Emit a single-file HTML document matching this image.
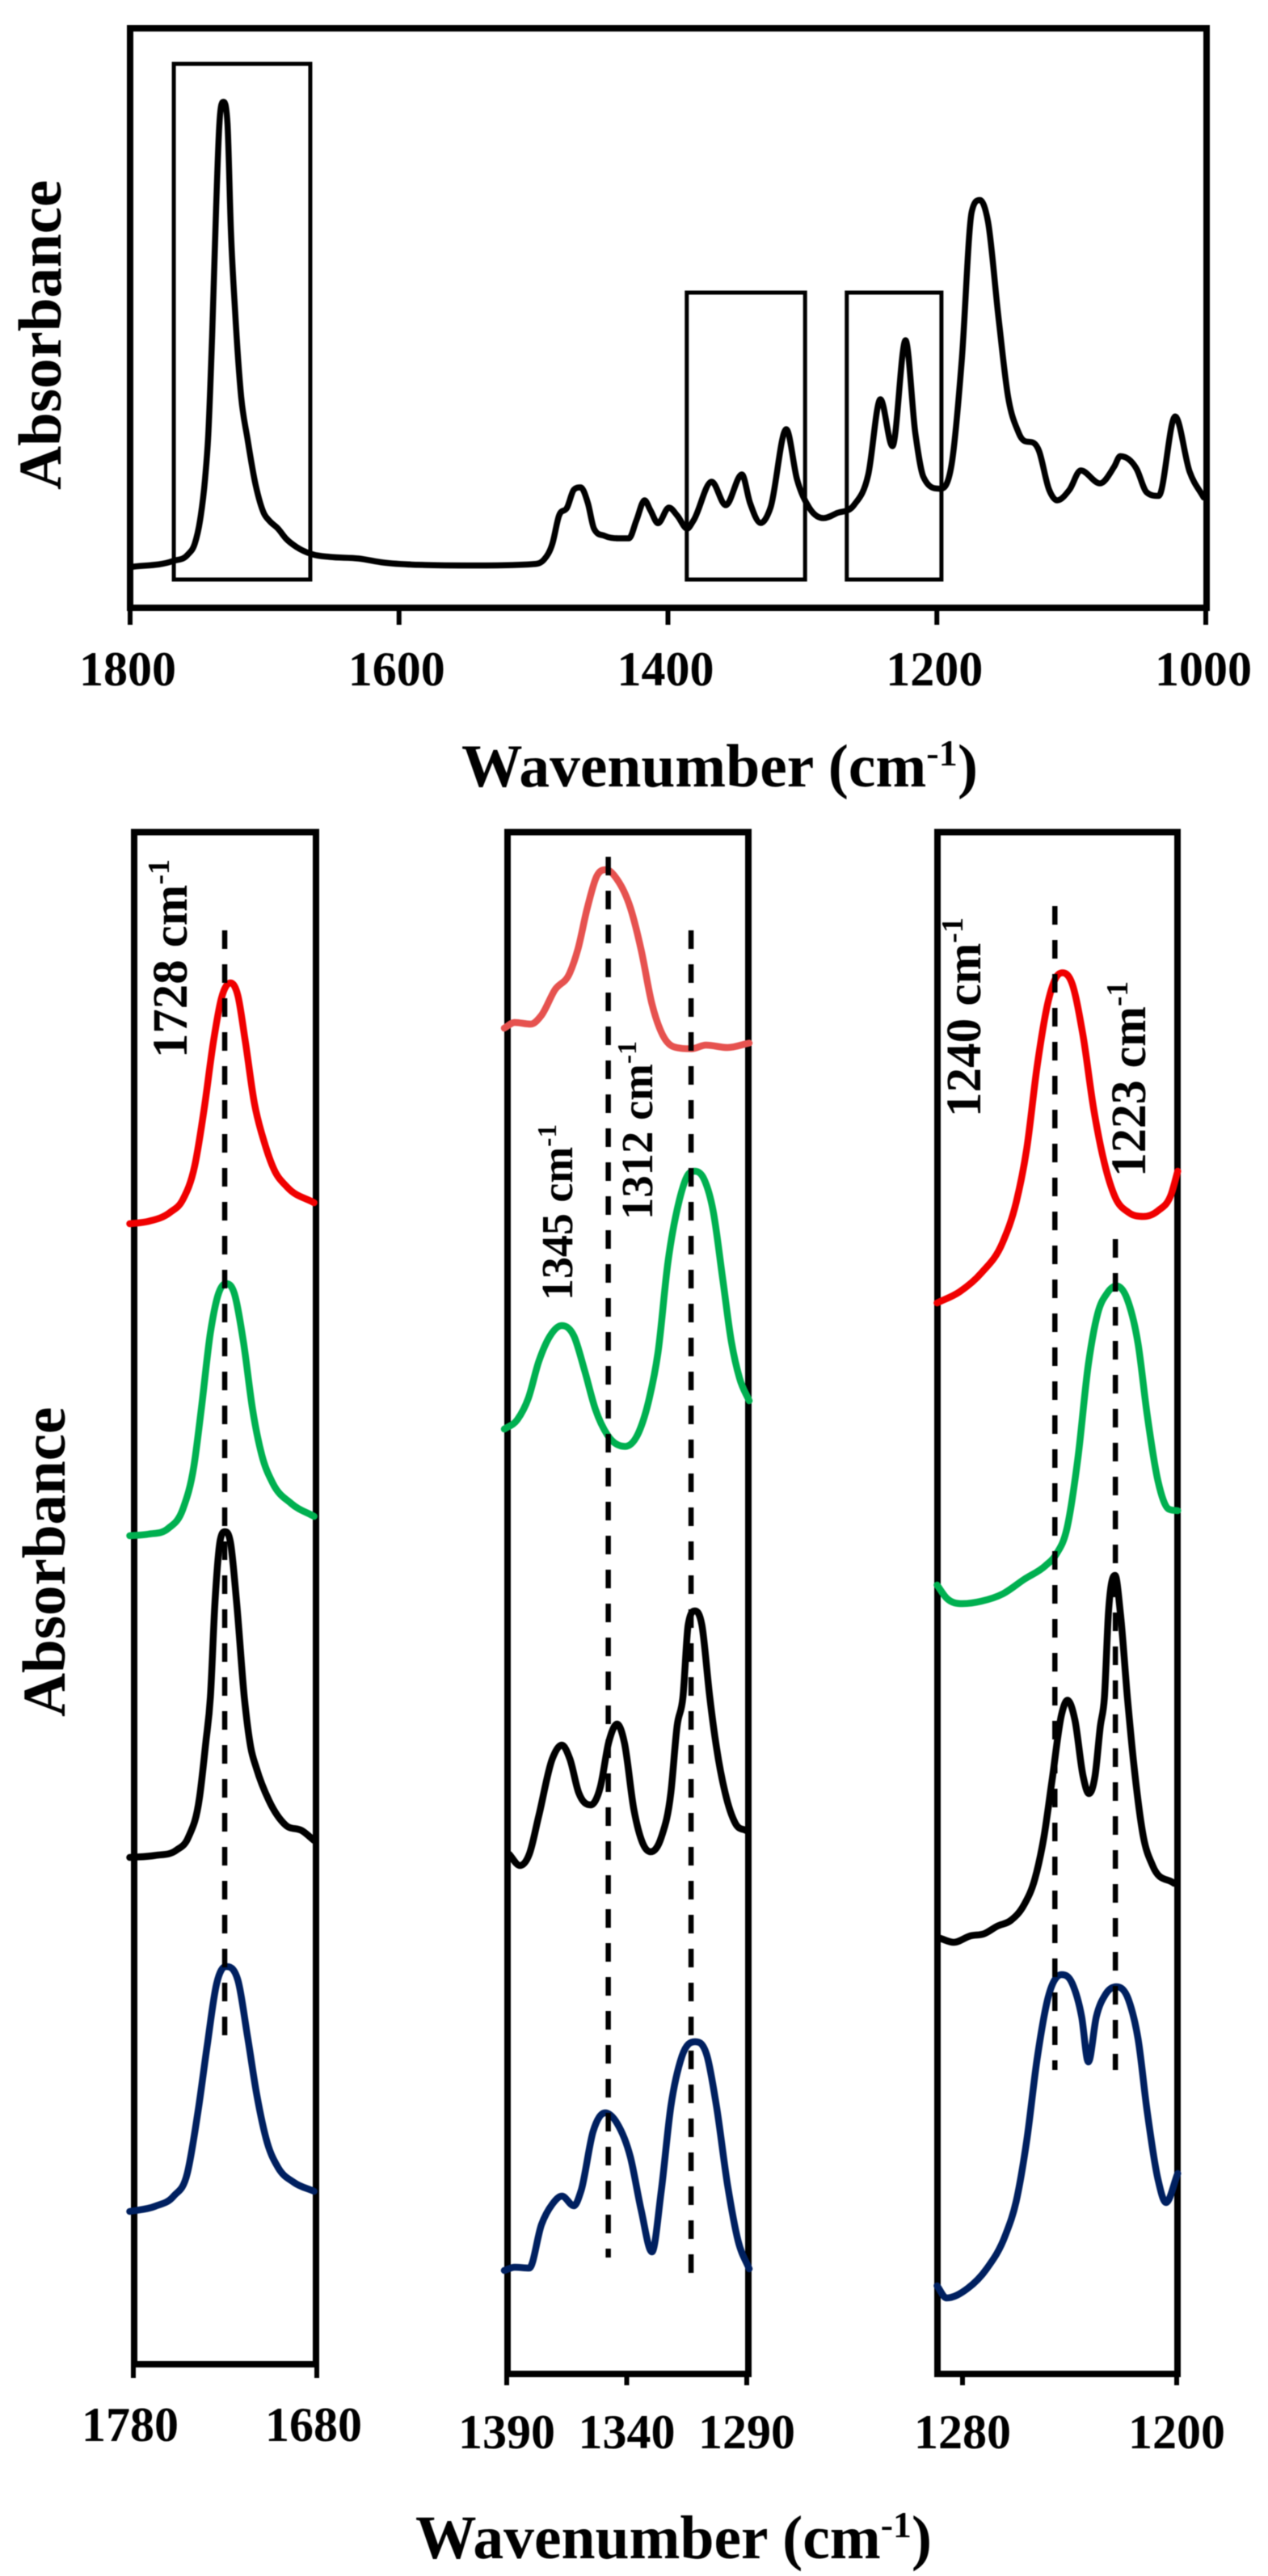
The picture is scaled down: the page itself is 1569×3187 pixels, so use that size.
<!DOCTYPE html>
<html lang="en">
<head>
<meta charset="utf-8">
<title>FTIR absorbance spectra</title>
<style>
  html, body { margin: 0; padding: 0; background: #fff; }
  svg { display: block; filter: blur(0.6px); }
  text { font-family: "Liberation Serif", serif; font-weight: bold; fill: #000; }
</style>
</head>
<body>
<svg id="figure" xmlns="http://www.w3.org/2000/svg" width="1569" height="3187" viewBox="0 0 1569 3187">
  <rect x="0" y="0" width="1569" height="3187" fill="#fff"/>
  <g id="layer-frames"></g>
  <g id="layer-curves"></g>
  <g id="layer-guides"></g>
  <g id="layer-ticks"></g>

  <text transform="translate(75,606) rotate(-90)" font-size="75">Absorbance</text>
  <text transform="translate(571,973)" font-size="75" textLength="639" lengthAdjust="spacingAndGlyphs">Wavenumber (cm<tspan font-size="46" dy="-26">-1</tspan><tspan dy="26">)</tspan></text>

  <text transform="translate(80,2124) rotate(-90)" font-size="75">Absorbance</text>
  <text transform="translate(514,3165)" font-size="76" textLength="639" lengthAdjust="spacingAndGlyphs">Wavenumber (cm<tspan font-size="46" dy="-26">-1</tspan><tspan dy="26">)</tspan></text>

  <text transform="translate(231,1309) rotate(-90)" font-size="61" textLength="246" lengthAdjust="spacingAndGlyphs">1728 cm<tspan font-size="38" dy="-22">-1</tspan></text>
  <text transform="translate(708,1609) rotate(-90)" font-size="55" textLength="218" lengthAdjust="spacingAndGlyphs">1345 cm<tspan font-size="34" dy="-20">-1</tspan></text>
  <text transform="translate(807,1509) rotate(-90)" font-size="55" textLength="221" lengthAdjust="spacingAndGlyphs">1312 cm<tspan font-size="34" dy="-20">-1</tspan></text>
  <text transform="translate(1213,1382) rotate(-90)" font-size="61" textLength="247" lengthAdjust="spacingAndGlyphs">1240 cm<tspan font-size="38" dy="-22">-1</tspan></text>
  <text transform="translate(1417,1456) rotate(-90)" font-size="61" textLength="242" lengthAdjust="spacingAndGlyphs">1223 cm<tspan font-size="38" dy="-22">-1</tspan></text>
</svg>

<script>
// ---------- Chart data (wavenumber in cm-1, absorbance in arbitrary units) ----------
const overviewTicks = [1800, 1600, 1400, 1200, 1000];
const carbonylTicks = [1780, 1680];
const midTicks = [1390, 1340, 1290];
const lowTicks = [1280, 1200];

const overviewWn = [1800,1768,1757,1752,1748,1744.3,1742,1739,1736,1733.6,1730.6,1727.6,1725,1722,1717.4,1712.8,1706.7,1700.5,1696,1690,1684,1676,1664,1651.5,1630,1611.6,1581,1544,1501,1492,1486,1481,1475,1470,1465,1459.6,1455,1447,1437,1429,1423.5,1417.4,1413,1407.4,1399.3,1393,1385.7,1381,1367.5,1357,1345,1339,1331,1323.7,1312,1304,1295,1284.4,1274,1261.7,1251,1242,1233,1223.3,1216,1210,1198,1189,1181.5,1174,1168,1162,1154,1147,1139,1124,1116.5,1110.5,1101.4,1093,1078.7,1068,1063.6,1051.5,1044,1035,1022.8,1012,1001.6];
const overviewAbs = [50.5,58,66,79,108,159,210,337,497,599,626,599,465,369,261,210,152.5,117,107,98,85.5,75,66,63,61,56,53,52.4,54,60,79,114,124,146,149,130,98,89,86,86,108,133,120.6,104.7,124,114,98,108,156,127,165,130,105,124,221,159,124,111,117.4,127,165,258,200,331,216,162,147.4,178,305.6,490.5,504.5,478,356.6,261,216,194,146,133,146,170,154,175,187.6,172,143,138.5,236.7,168.5,136.6];

const carbonylRedWn = [1782,1771.7,1760,1753,1746.5,1741.4,1736.3,1732,1727,1723,1719,1714,1708.5,1703.5,1696,1681.5];
const carbonylRedAbs = [1411,1414,1425,1441,1483,1553,1637,1690,1709,1693,1637,1560,1511,1479,1456,1437];
const carbonylGreenWn = [1782,1771.7,1761,1753,1747,1743,1738,1734,1729.6,1725,1720,1715,1710,1704,1694,1681.5];
const carbonylGreenAbs = [1025,1027,1034,1058,1111,1181,1276,1321.5,1337,1325,1265,1181,1125,1090,1065,1049];
const carbonylBlackWn = [1782,1768,1756.5,1750,1744,1740.5,1738,1735.5,1732.6,1730,1727,1723.7,1719.5,1716,1713,1706,1697,1688,1681.5];
const carbonylBlackAbs = [627,629.5,636,652,700,769.5,825,942.5,1020,1030,1016,942.5,825,763,738,697,667,660,648];
const carbonylNavyWn = [1782,1768,1758,1750.6,1744.8,1739.7,1734.6,1729.6,1723,1718,1712.7,1707,1701,1692.5,1681.5];
const carbonylNavyAbs = [189,195.5,208,236,312,395,471,492,475,409,333,274,243,225,214];

const midSalmonWn = [1391,1386.7,1380,1375.5,1370,1363.7,1360.4,1356.4,1352.5,1348.6,1344,1338.5,1334,1329.5,1325.6,1320.5,1313,1307,1298,1289];
const midSalmonAbs = [1665,1672,1670,1681,1712,1733.5,1762,1814,1853,1861,1849,1814,1762,1695,1660,1642,1639.5,1644,1641,1646.5];
const midGreenWn = [1391,1385.6,1381,1376.6,1372,1367,1362,1357.6,1353,1348,1340.7,1335,1330.6,1327,1322.8,1318,1315,1311.6,1307.6,1304,1300,1296.4,1293,1289];
const midGreenAbs = [1169,1180.5,1207,1253,1284,1297,1284,1242,1193,1161.6,1147.5,1165,1207,1263,1376,1453,1481,1488,1477,1439,1354.5,1277,1232,1204];
const midBlackWn = [1389,1384.5,1380.6,1376.6,1371,1367,1363.7,1360,1355,1351,1347.5,1344,1341,1337,1333.4,1330,1325.6,1321.6,1319,1316.6,1314.4,1311.5,1308.7,1305.4,1302.6,1299,1294.7,1290];
const midBlackAbs = [643,629,643,691,761,778,761,719,704,726,781.5,804,781.5,698,657,646,664,719,802,837,926.5,944,926.5,837,775,719,681,672];
const midNavyWn = [1391,1386.7,1380.6,1375.5,1371,1367,1362,1359,1354,1349,1344,1338.5,1334,1329.5,1325.6,1321.6,1317,1311.5,1306.5,1302.6,1298,1293.6,1289];
const midNavyAbs = [128,132,131,185,210,220,208,227,300,323,310,268.5,203,151,227,331,393,411,393,331,234,164.6,130];

const lowRedWn = [1289.5,1281,1273,1265,1260,1256,1252,1248,1245,1242.6,1239,1235,1231,1227,1223,1218,1212.4,1207,1202,1199.6];
const lowRedAbs = [1325,1339,1362,1400,1449,1516,1621,1698,1728,1733.5,1719.5,1656,1565,1498,1456,1437,1432,1439,1460,1488];
const lowGreenWn = [1289.5,1286,1280,1273,1265,1257,1249,1245,1241,1237,1233,1229.5,1226,1222.5,1218.5,1214.4,1211,1207,1203,1199.6];
const lowGreenAbs = [976,960,953,956,965,983,1000,1014,1046,1130,1249,1312,1337,1346,1330,1274,1186,1105,1070,1068];
const lowBlackWn = [1288.4,1283.3,1277,1272,1267,1262,1257,1253,1249.6,1246.6,1243,1240.8,1238,1235,1232.8,1230.5,1228.5,1227,1225.5,1223,1221,1218.4,1216,1212.4,1209,1201];
const lowBlackAbs = [539,534,542,544.5,554,561,580.5,612,664,733,816,833.5,809,740,718,740,802,837,940.5,988,940.5,837,754,664,629,607];
const lowNavyWn = [1289.5,1286,1278,1271,1264,1260,1256,1252,1248,1243,1239,1235.5,1233,1230,1226.5,1222.5,1218,1214.4,1211,1207,1204,1199.6];
const lowNavyAbs = [109,94,106,130,171.5,213,289,393,466,494,483,442,386,442,470,479,463,414,324,241,212,248];

const carbonylPeaks = [1730.2];
const midPeaks = [1347.7, 1313.2];
const lowPeaks = [1245.5, 1222.9];

const overviewBoxLeft = [1767.5, 1386, 1267];
const overviewBoxRight = [1666, 1298, 1196.6];

// ---------- Helpers ----------
const NS = 'http://www.w3.org/2000/svg';
const framesLayer = document.getElementById('layer-frames');
const curvesLayer = document.getElementById('layer-curves');
const guidesLayer = document.getElementById('layer-guides');
const ticksLayer = document.getElementById('layer-ticks');

function linear(d0, d1, r0, r1) {
  return function (v) { return r0 + (v - d0) * (r1 - r0) / (d1 - d0); };
}

// Smooth spline: weighted central tangents, flat at extrema, limited to avoid overshoot.
function smoothPath(xs, ys) {
  const n = xs.length;
  const h = [], s = [], m = new Array(n);
  for (let i = 0; i < n - 1; i++) {
    h[i] = xs[i + 1] - xs[i];
    s[i] = (ys[i + 1] - ys[i]) / h[i];
  }
  m[0] = s[0];
  m[n - 1] = s[n - 2];
  for (let i = 1; i < n - 1; i++) {
    if (s[i - 1] * s[i] <= 0) { m[i] = 0; continue; }
    const p = (s[i - 1] * h[i] + s[i] * h[i - 1]) / (h[i - 1] + h[i]);
    const lim = 3 * Math.min(Math.abs(s[i - 1]), Math.abs(s[i]));
    m[i] = Math.sign(p) * Math.min(Math.abs(p), lim);
  }
  let d = 'M' + xs[0].toFixed(1) + ' ' + ys[0].toFixed(1);
  for (let i = 0; i < n - 1; i++) {
    const c = h[i] / 3;
    d += 'C' + (xs[i] + c).toFixed(1) + ' ' + (ys[i] + m[i] * c).toFixed(1) + ' ' +
         (xs[i + 1] - c).toFixed(1) + ' ' + (ys[i + 1] - m[i + 1] * c).toFixed(1) + ' ' +
         xs[i + 1].toFixed(1) + ' ' + ys[i + 1].toFixed(1);
  }
  return d;
}

function drawSeries(name, wn, abs, xFn, yFn, color, width) {
  const el = document.createElementNS(NS, 'path');
  
  
  el.setAttribute('d', smoothPath(wn.map(xFn), abs.map(yFn)));
  el.setAttribute('fill', 'none');
  el.setAttribute('stroke', color);
  el.setAttribute('stroke-width', width);
  el.setAttribute('stroke-linecap', 'round');
  el.setAttribute('stroke-linejoin', 'round');
  curvesLayer.appendChild(el);
}

function drawFrame(name, x0, y0, x1, y1, w) {
  const el = document.createElementNS(NS, 'rect');
  
  
  el.setAttribute('x', x0);
  el.setAttribute('y', y0);
  el.setAttribute('width', x1 - x0);
  el.setAttribute('height', y1 - y0);
  el.setAttribute('fill', 'none');
  el.setAttribute('stroke', '#000');
  el.setAttribute('stroke-width', w);
  framesLayer.appendChild(el);
}

function drawTick(name, x, y0, y1) {
  const el = document.createElementNS(NS, 'line');
  
  
  el.setAttribute('x1', x);
  el.setAttribute('x2', x);
  el.setAttribute('y1', y0);
  el.setAttribute('y2', y1);
  el.setAttribute('stroke', '#000');
  el.setAttribute('stroke-width', 6);
  framesLayer.appendChild(el);
}

function drawTickLabel(value, x, y) {
  const el = document.createElementNS(NS, 'text');
  
  
  el.setAttribute('x', x);
  el.setAttribute('y', y);
  el.setAttribute('font-size', 60);
  el.setAttribute('text-anchor', 'middle');
  el.textContent = value;
  ticksLayer.appendChild(el);
}

function drawGuide(x, y0, y1) {
  const el = document.createElementNS(NS, 'line');
  
  
  el.setAttribute('x1', x);
  el.setAttribute('x2', x);
  el.setAttribute('y1', y0);
  el.setAttribute('y2', y1);
  el.setAttribute('stroke', '#000');
  el.setAttribute('stroke-width', 6.5);
  el.setAttribute('stroke-dasharray', '23 19');
  guidesLayer.appendChild(el);
}

function drawBox(x0, x1, y0, y1) {
  const el = document.createElementNS(NS, 'rect');
  
  
  el.setAttribute('x', x0);
  el.setAttribute('y', y0);
  el.setAttribute('width', x1 - x0);
  el.setAttribute('height', y1 - y0);
  el.setAttribute('fill', 'none');
  el.setAttribute('stroke', '#000');
  el.setAttribute('stroke-width', 5);
  framesLayer.appendChild(el);
}

// ---------- Scales ----------
const xOverview = linear(1800, 1000, 161, 1492);
const yOverview = linear(0, 717, 752, 35);
const xCarbonyl = linear(1780, 1680, 165, 392);
const yCarbonyl = linear(0, 1895.5, 2925, 1029.5);
const xMid = linear(1390, 1290, 627, 924);
const yMid = linear(0, 1907.5, 2937, 1029.5);
const xLow = linear(1280, 1200, 1191, 1456);
const yLow = linear(0, 1907.5, 2937, 1029.5);

const RED = '#f00000', GREEN = '#00b050', NAVY = '#002060', SALMON = '#e6524f', BLACK = '#000';

// ---------- Frames, ticks, labels ----------
drawFrame('overview-frame', 161, 35, 1493, 752, 8);
drawFrame('carbonyl-frame', 166, 1029.5, 391, 2925, 8);
drawFrame('mid-frame', 628, 1029.5, 926, 2937, 8);
drawFrame('low-frame', 1160, 1029.5, 1457, 2937, 8);

overviewTicks.forEach(function (t) {
  drawTick('overview-tick', xOverview(t), 752, 773);
  drawTickLabel(t, xOverview(t) - 3, 848);
});
carbonylTicks.forEach(function (t) {
  drawTick('carbonyl-tick', xCarbonyl(t), 2925, 2942);
  drawTickLabel(t, xCarbonyl(t) - 4, 3020);
});
midTicks.forEach(function (t) {
  drawTick('mid-tick', xMid(t), 2937, 2951);
  drawTickLabel(t, xMid(t), 3029);
});
lowTicks.forEach(function (t) {
  drawTick('low-tick', xLow(t), 2937, 2951);
  drawTickLabel(t, xLow(t), 3029);
});

overviewBoxLeft.forEach(function (left, i) {
  const top = i === 0 ? 79 : 362;
  drawBox(xOverview(left), xOverview(overviewBoxRight[i]), top, 717);
});

// ---------- Spectra ----------
drawSeries('overview-spectrum', overviewWn, overviewAbs, xOverview, yOverview, BLACK, 7.5);

drawSeries('carbonyl-red', carbonylRedWn, carbonylRedAbs, xCarbonyl, yCarbonyl, RED, 8.5);
drawSeries('carbonyl-green', carbonylGreenWn, carbonylGreenAbs, xCarbonyl, yCarbonyl, GREEN, 8.5);
drawSeries('carbonyl-black', carbonylBlackWn, carbonylBlackAbs, xCarbonyl, yCarbonyl, BLACK, 8.5);
drawSeries('carbonyl-navy', carbonylNavyWn, carbonylNavyAbs, xCarbonyl, yCarbonyl, NAVY, 8.5);

drawSeries('mid-salmon', midSalmonWn, midSalmonAbs, xMid, yMid, SALMON, 8.5);
drawSeries('mid-green', midGreenWn, midGreenAbs, xMid, yMid, GREEN, 8.5);
drawSeries('mid-black', midBlackWn, midBlackAbs, xMid, yMid, BLACK, 8.5);
drawSeries('mid-navy', midNavyWn, midNavyAbs, xMid, yMid, NAVY, 8.5);

drawSeries('low-red', lowRedWn, lowRedAbs, xLow, yLow, RED, 8.5);
drawSeries('low-green', lowGreenWn, lowGreenAbs, xLow, yLow, GREEN, 8.5);
drawSeries('low-black', lowBlackWn, lowBlackAbs, xLow, yLow, BLACK, 8.5);
drawSeries('low-navy', lowNavyWn, lowNavyAbs, xLow, yLow, NAVY, 8.5);

// ---------- Peak guides ----------
drawGuide(xCarbonyl(carbonylPeaks[0]), 1151, 2519);
drawGuide(xMid(midPeaks[0]), 1060, 2793);
drawGuide(xMid(midPeaks[1]), 1151, 2814);
drawGuide(xLow(lowPeaks[0]), 1121, 2561);
drawGuide(xLow(lowPeaks[1]), 1533, 2561);
</script>
</body>
</html>
